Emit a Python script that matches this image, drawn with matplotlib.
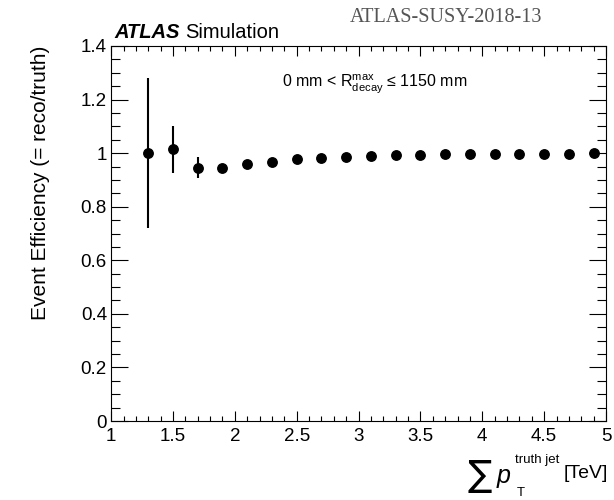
import matplotlib
matplotlib.use("Agg")
import matplotlib.pyplot as plt
from matplotlib.ticker import MultipleLocator, FormatStrFormatter

plt.rcParams['font.family'] = ['Liberation Sans', 'DejaVu Sans']
plt.rcParams['mathtext.fontset'] = 'custom'
plt.rcParams['mathtext.rm'] = 'Liberation Sans'
plt.rcParams['mathtext.it'] = 'Liberation Sans:italic'
plt.rcParams['mathtext.bf'] = 'Liberation Sans:bold'

# Data
pt_sum = [1.3, 1.5, 1.7, 1.9, 2.1, 2.3, 2.5, 2.7, 2.9, 3.1, 3.3, 3.5, 3.7, 3.9, 4.1, 4.3, 4.5, 4.7, 4.9]
efficiency = [1.000, 1.015, 0.946, 0.943, 0.958, 0.967, 0.979, 0.982, 0.987, 0.990, 0.992, 0.994,
              0.995, 0.996, 0.997, 0.997, 0.998, 0.998, 0.999]
err_up = [0.281, 0.088, 0.039, 0.006, 0.005, 0.004, 0.004, 0.003, 0.003, 0.003, 0.002, 0.002,
          0.002, 0.002, 0.002, 0.001, 0.001, 0.001, 0.001]
err_down = [0.281, 0.090, 0.037, 0.006, 0.005, 0.004, 0.004, 0.003, 0.003, 0.003, 0.002, 0.002,
            0.002, 0.002, 0.002, 0.001, 0.001, 0.001, 0.001]

W, H = 614, 500
fig = plt.figure(figsize=(W / 100, H / 100), dpi=100)
ax = fig.add_axes([0.181, 0.158, 0.806, 0.750])

ax.errorbar(pt_sum, efficiency, yerr=[err_down, err_up], fmt='o', color='black',
            markersize=6.8, elinewidth=1.5, capsize=0)

ax.set_xlim(1, 5)
ax.set_ylim(0, 1.4)
ax.xaxis.set_major_locator(MultipleLocator(0.5))
ax.xaxis.set_minor_locator(MultipleLocator(0.1))
ax.yaxis.set_major_locator(MultipleLocator(0.2))
ax.yaxis.set_minor_locator(MultipleLocator(0.05))
ax.xaxis.set_major_formatter(FormatStrFormatter('%g'))
ax.yaxis.set_major_formatter(FormatStrFormatter('%g'))

ax.tick_params(which='both', direction='in', top=True, right=True, width=0.8, labelsize=13.5)
ax.tick_params(axis='y', which='major', length=12, pad=3)
ax.tick_params(axis='y', which='minor', length=6.5)
ax.tick_params(axis='x', which='major', length=7, pad=5)
ax.tick_params(axis='x', which='minor', length=3.5)
for s in ax.spines.values():
    s.set_linewidth(0.8)

ax.set_ylabel('Event Efficiency (= reco/truth)', fontsize=15, loc='top', labelpad=22)

# x-axis title built from pieces (large sum sign, p_T with super/subscript)
def px(x, y):
    return x / W, 1 - y / H

fig.text(*px(608, 478), '[TeV]', fontsize=14, ha='right', va='baseline')
fig.text(*px(468, 486), '∑', fontsize=26, family='DejaVu Sans', ha='left', va='baseline')
fig.text(*px(497, 483), 'p', fontsize=18, fontstyle='italic', ha='left', va='baseline')
fig.text(*px(515, 463), 'truth jet', fontsize=9.5, ha='left', va='baseline')
fig.text(*px(517, 496), 'T', fontsize=9.5, ha='left', va='baseline')

ax.text(0.345, 0.900, r'0 mm < R$_{\rm decay}^{\rm max}$ ≤ 1150 mm', transform=ax.transAxes,
        fontsize=11.5, ha='left', va='center')

# ATLAS label
renderer = fig.canvas.get_renderer()
t_atlas = fig.text(*px(114, 38), 'ATLAS', fontsize=14.5, fontweight='bold', fontstyle='italic',
                   ha='left', va='baseline')
bb = t_atlas.get_window_extent(renderer)
fig.text(bb.x1 / W + 6 / W, 1 - 38 / H, 'Simulation', fontsize=14.5, ha='left', va='baseline')
fig.text(*px(350, 22), 'ATLAS-SUSY-2018-13', fontsize=14.5, family='Liberation Serif',
         color='#555555', ha='left', va='baseline')

fig.savefig('out.png', dpi=100)
